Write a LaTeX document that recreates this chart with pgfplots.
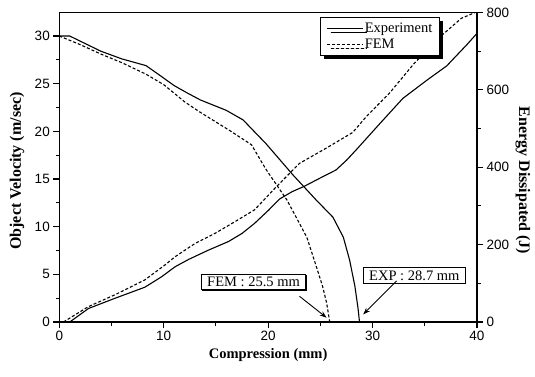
\documentclass[border=0pt]{standalone}
\usepackage{fontspec}
\setmainfont{Liberation Serif}
\newfontfamily\sansfont{Liberation Sans}
\usepackage{pgfplots}
\pgfplotsset{compat=1.18}
\usetikzlibrary{shadows,arrows.meta}

\pgfplotstableread{
x y
0 30
1 30
2.5 29.2
4 28.4
6 27.6
8.3 26.9
9.6 25.9
11 24.8
12.3 24.0
13.5 23.3
16 22.2
17.6 21.2
19.8 18.7
22.4 15.4
24.6 12.8
26.2 11.0
27.2 8.9
27.8 6.5
28.3 3.8
28.6 1.5
28.75 0
}\velexp

\pgfplotstableread{
x y
0 30
2 29.1
4 28.1
6 27.2
8.3 26.0
10 24.9
12 23.1
13.5 22.0
16.3 20.1
18.4 18.6
19.8 16.0
21.8 12.8
23.7 8.9
24.5 6.2
25.2 3.8
25.6 2.0
25.9 0
}\velfem

\pgfplotstableread{
x y
1 0
2.8 35
5.3 61
8.2 90
9.8 117
11.1 143
12.4 162
14.3 186
16.2 208
17.5 229
18.7 255
20 288
21.1 318
22.3 337
23.4 350
24.9 371
26.5 393
27.5 418
28.5 447
30.6 510
32.9 578
35.2 625
37.1 662
39 716
40 746
}\enexp

\pgfplotstableread{
x y
0.4 0
2.8 40
5.3 70
8.2 109
10.1 147
11.1 169
13 203
14.9 229
16.8 259
18.7 290
20.8 350
23 410
25.6 450
28.1 490
29.4 531
31.6 591
34 669
36.8 745
38.5 785
40 802
}\enfem

\begin{document}
\begin{tikzpicture}
\pgfplotsset{
  every axis/.append style={
    scale only axis, width=417.7pt, height=309.5pt,
    xmin=0, xmax=40,
    tick align=outside,
    major tick length=6pt, minor tick length=3.5pt,
    axis line style={line width=1.3pt},
    every tick/.style={line width=1.1pt, black},
    tick label style={font=\sansfont\fontsize{13.5}{14}\selectfont},
    /pgf/number format/assume math mode=true,
  },
  expl/.style={black, line width=1.1pt},
  feml/.style={black, line width=1.1pt, dash pattern=on 3pt off 2pt},
}
\begin{axis}[at={(59.3pt,54pt)}, anchor=south west,
  ymin=0, ymax=32.47,
  xtick={0,10,...,40}, minor x tick num=1,
  ytick={0,5,...,30}, minor y tick num=1,
  xtick pos=left, ytick pos=left,
  xlabel={Compression (mm)},
  xlabel style={at={(axis description cs:0.5,-0.1195)}, anchor=base, font=\fontsize{14.5}{15}\selectfont\bfseries},
  ylabel={Object Velocity (m/sec)},
  ylabel style={at={(axis description cs:-0.101,0.488)}, anchor=center, rotate=0, font=\fontsize{16}{17}\selectfont\bfseries},
]
\addplot[expl] table {\velexp};
\addplot[feml] table {\velfem};
\node[draw, fill=white, line width=0.8pt, font=\fontsize{14.5}{15}\selectfont, inner xsep=6pt, inner ysep=3pt,
  drop shadow={shadow xshift=1pt, shadow yshift=-1pt, fill=black, opacity=1}] at (axis cs:18.6,4.2) {FEM : 25.5 mm};
\node[draw, fill=white, line width=0.8pt, font=\fontsize{14.5}{15}\selectfont, inner xsep=6pt, inner ysep=3pt,
  drop shadow={shadow xshift=1pt, shadow yshift=-1pt, fill=black, opacity=1}] at (axis cs:34.0,4.9) {EXP : 28.7 mm};
\draw[-{Stealth[length=7pt,width=5pt]}, line width=0.9pt] (axis cs:23.0,2.7) -- (axis cs:25.6,0.45);
\draw[-{Stealth[length=7pt,width=5pt]}, line width=0.9pt] (axis cs:32.3,4.3) -- (axis cs:29.1,0.8);
\end{axis}
\begin{axis}[at={(59.3pt,54pt)}, anchor=south west,
  ymin=0, ymax=800,
  axis x line=none, axis y line*=right,
  ytick={0,200,...,800}, minor y tick num=1,
  ylabel={Energy Dissipated (J)},
  ylabel style={at={(axis description cs:1.110,0.457)}, anchor=center, rotate=180, font=\fontsize{16}{17}\selectfont\bfseries},
  legend cell align=left,
  legend style={at={(0.911,0.985)}, anchor=north east, draw=black, line width=0.8pt, fill=white,
    font=\fontsize{14.5}{15}\selectfont, inner xsep=6pt, inner ysep=4pt, row sep=2pt,
    nodes={inner xsep=1pt, inner ysep=1.5pt},
    drop shadow={shadow xshift=3.5pt, shadow yshift=-3.5pt, fill=black, opacity=1}},
  legend image code/.code={\draw[#1] (0pt,0pt) -- (36pt,0pt);},
]
\addplot[expl] table {\enexp};
\addlegendentry{Experiment}
\addplot[feml] table {\enfem};
\addlegendentry{FEM}
\end{axis}
\pgfresetboundingbox
\path[use as bounding box] (0pt,0pt) rectangle (535pt,376pt);
\end{tikzpicture}
\end{document}
